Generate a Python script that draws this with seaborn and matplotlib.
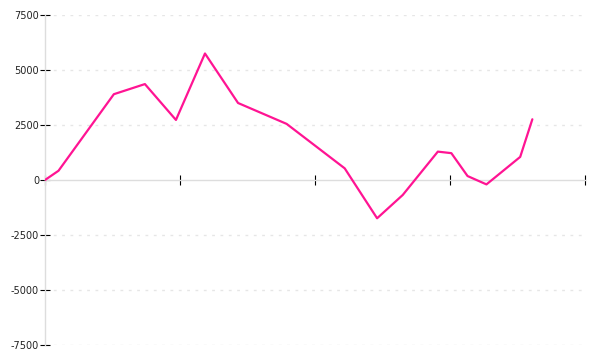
import matplotlib
matplotlib.use("Agg")
import matplotlib.pyplot as plt
import seaborn as sns
import pandas as pd

x_vals = [0, 1.0, 5.1, 7.4, 9.7, 11.85, 14.3, 17.9, 22.2, 24.6, 26.5, 29.1, 30.1, 31.3, 32.7, 35.2, 36.1]
y_vals = [0, 420, 3900, 4360, 2730, 5750, 3500, 2550, 530, -1740, -680, 1290, 1220, 180, -200, 1050, 2760]
y_ticks = [-7500, -5000, -2500, 0, 2500, 5000, 7500]
x_ticks = [0, 10, 20, 30, 40]

df = pd.DataFrame({"x": x_vals, "y": y_vals})

sns.set_style("white")
plt.rcParams['font.family'] = ['DejaVu Sans']

fig = plt.figure(figsize=(6, 3.6), dpi=100)
ax = fig.add_axes([45/600, 1 - 345/360, 540/600, 330/360])

for t in y_ticks:
    if t != 0:
        ax.axhline(t, color="#e6e6e6", lw=1, ls=(0, (2, 4)), zorder=0)

sns.lineplot(data=df, x="x", y="y", ax=ax, color="#ff1493", lw=1.6, zorder=3)

ax.set_xlim(0, 40)
ax.set_ylim(-7500, 7500)
ax.set_yticks(y_ticks)
ax.set_yticklabels([str(t) for t in y_ticks])
ax.set_xticks(x_ticks)
ax.set_xticklabels([])
ax.set_xlabel("")
ax.set_ylabel("")

for s in ["top", "right"]:
    ax.spines[s].set_visible(False)
ax.spines["left"].set_color("#dddddd")
ax.spines["left"].set_linewidth(1)
ax.spines["bottom"].set_position(("data", 0))
ax.spines["bottom"].set_color("#dddddd")
ax.spines["bottom"].set_linewidth(1)
ax.spines["bottom"].set_zorder(1)

ax.tick_params(axis="y", direction="inout", length=6.5, width=0.8, color="black",
               labelsize=7, pad=1, left=True, labelcolor="#222222")
ax.tick_params(axis="x", direction="inout", length=7, width=0.8, color="black", bottom=True)

fig.savefig("out.png", dpi=100)
